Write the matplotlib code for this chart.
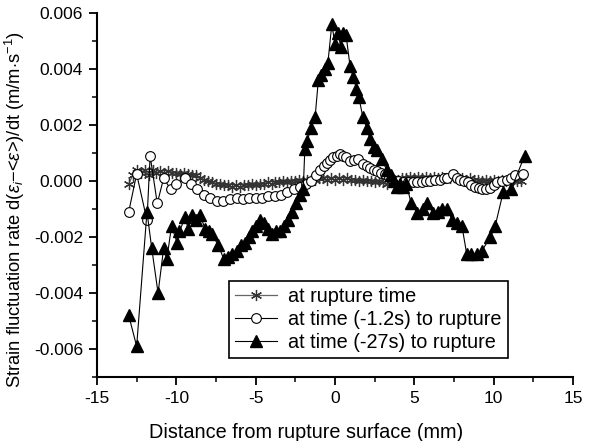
import matplotlib
matplotlib.use("Agg")
import matplotlib.pyplot as plt
from matplotlib.ticker import MultipleLocator

plt.rcParams['font.family'] = ['Liberation Sans', 'DejaVu Sans']
plt.rcParams['mathtext.fontset'] = 'custom'
plt.rcParams['mathtext.rm'] = 'Liberation Sans'
plt.rcParams['mathtext.it'] = 'Liberation Sans:italic'

# ---- data ----
star_x = [-13.0, -12.75, -12.5, -12.25, -12.0, -11.75, -11.5, -11.25, -11.0, -10.75,
          -10.5, -10.25, -10.0, -9.75, -9.5, -9.25, -9.0, -8.75, -8.5, -8.25,
          -8.0, -7.75, -7.5, -7.25, -7.0, -6.75, -6.5, -6.25, -6.0, -5.75,
          -5.5, -5.25, -5.0, -4.75, -4.5, -4.25, -4.0, -3.75, -3.5, -3.25,
          -3.0, -2.75, -2.5, -2.25, -2.0, -1.75, -1.5, -1.25, -1.0, -0.75,
          -0.5, -0.25, 0.0, 0.25, 0.5, 0.75, 1.0, 1.25, 1.5, 1.75,
          2.0, 2.25, 2.5, 2.75, 3.0, 3.25, 3.5, 3.75, 4.0, 4.25,
          4.5, 4.75, 5.0, 5.25, 5.5, 5.75, 6.0, 6.25, 6.5, 6.75,
          7.0, 7.25, 7.5, 7.75, 8.0, 8.25, 8.5, 8.75, 9.0, 9.25,
          9.5, 9.75, 10.0, 10.25, 10.5, 10.75, 11.0, 11.25, 11.5, 11.75]
star_y = [-1, 2, 4, 3, 4, 2, 4, 3, 3.5, 3,
          3.5, 3, 3, 2.5, 3, 2.5, 2, 2, 1, 0.5,
          0, -0.5, -1, -1, -1.5, -1.5, -2, -1.5, -2, -1.5,
          -1.5, -1, -1.5, -1, -1, -0.5, -1, -0.5, -0.5, 0,
          -0.5, 0, 0, 0.5, 0, 0.5, 0.5, 0.5, 1, 1,
          0.5, 1, 0.5, 1, 0.5, 1, 0.5, 0.5, 0, 0.5,
          0, 0, -0.5, 0, -0.5, -1, -0.5, 0, 0.5, 1,
          1, 1.5, 1, 1.5, 1, 1.5, 1, 1.5, 1, 1.5,
          1, 1, 1.5, 1, 1, 0.5, 1, 0.5, 0.5, 0,
          0.5, 0, 0.5, 0, 0.5, 0, 0, 0.5, 0, 0]
star_y = [v * 1e-4 for v in star_y]

circ_x = [-13.0, -12.5, -11.85, -11.65, -11.2, -10.8, -10.35, -10.0, -9.45, -9.1,
          -8.7, -8.25, -7.9, -7.45, -7.05, -6.6, -6.2, -5.8, -5.4, -5.0,
          -4.6, -4.2, -3.8, -3.4, -3.0, -2.6, -2.2, -1.8, -1.5, -1.2,
          -0.95, -0.7, -0.5, -0.3, -0.1, 0.1, 0.3, 0.5, 0.7, 0.95,
          1.2, 1.45, 1.75, 2.0, 2.2, 2.45, 2.65, 2.9, 3.15, 3.4,
          3.65, 4.0, 4.3, 4.6, 4.9, 5.2, 5.5, 5.75, 6.0, 6.3,
          6.6, 6.85, 7.05, 7.45, 7.7, 7.9, 8.15, 8.4, 8.6, 8.8,
          9.05, 9.25, 9.5, 9.75, 10.0, 10.2, 10.5, 10.85, 11.1, 11.35, 11.85]
circ_y = [-11, 2.5, -14, 9, -8, 1, -3, -1, 1, -1,
          -3, -5, -6, -7, -7, -6.5, -6, -6.5, -6, -6,
          -6, -5.5, -5.5, -5, -4, -3, -2, -1, 0, 2,
          4, 5.5, 6.5, 7.5, 8.5, 9, 9.5, 9, 8.5, 7,
          7.5, 8, 6, 5.5, 4.5, 4, 3.5, 3, 2.5, 1.5,
          0.5, 0, -0.5, -0.5, -0.5, -0.5, -0.5, 0, 0, 0.5,
          0.5, 1, 1, 2.5, 1, 0.5, 0, -0.5, -1.5, -2,
          -2.5, -3, -3, -2.5, -1.5, -0.5, 0, 0.5, 1, 2, 2.5]
circ_y = [v * 1e-4 for v in circ_y]

tri_x = [-13.0, -12.5, -11.85, -11.55, -11.15, -10.8, -10.6, -10.3, -9.95, -9.8,
         -9.45, -9.25, -9.0, -8.75, -8.5, -8.2, -7.95, -7.75, -7.35, -7.0,
         -6.75, -6.5, -6.2, -5.95, -5.7, -5.45, -5.2, -4.95, -4.7, -4.45,
         -4.2, -3.95, -3.7, -3.45, -3.2, -2.95, -2.7, -2.45, -2.2, -2.0,
         -1.9, -1.75, -1.5, -1.25, -1.05, -0.9, -0.65, -0.45, -0.2, 0.0,
         0.2, 0.35, 0.5, 0.7, 0.95, 1.15, 1.35, 1.5, 1.75, 2.0,
         2.2, 2.45, 2.65, 2.95, 3.25, 3.5, 3.7, 3.9, 4.1, 4.3,
         4.5, 4.8, 5.2, 5.55, 5.8, 6.2, 6.5, 6.75, 7.05, 7.4,
         7.7, 8.0, 8.3, 8.6, 8.95, 9.25, 9.8, 10.1, 10.6, 11.1, 11.95]
tri_y = [-48, -59, -11, -24, -40, -24, -28, -16, -22, -18,
         -13, -17, -12, -14, -12, -17, -18, -19, -23, -28,
         -27, -26, -25, -23, -22, -20, -18, -16, -14, -15,
         -17, -19, -18, -18, -16, -14, -11, -8, -5, -3,
         11.5, 14.4, 19, 23, 36, 38, 40, 42, 56, 49,
         53, 48, 53, 52, 41, 37, 33, 30, 23, 19,
         15, 12, 11, 8, 4, 2, 0, -2, -1, -2,
         -1, -8, -11.5, -10, -8, -11.5, -11, -10, -10, -14,
         -15, -16, -26, -26, -26, -25, -20, -16, -4, -3, 9]
tri_y = [v * 1e-4 for v in tri_y]

labels = ['at rupture time', 'at time (-1.2s) to rupture', 'at time (-27s) to rupture']

# ---- figure ----
fig = plt.figure(figsize=(5.95, 4.41), dpi=100)
ax = fig.add_axes([0.163, 0.145, 0.80, 0.8255])

ax.plot(star_x, star_y, color='#666666', lw=0.9, marker=(6, 2, 0), ms=8,
        mec='#333333', mew=0.9, label=labels[0], zorder=2)
ax.plot(circ_x, circ_y, color='black', lw=0.8, marker='o', ms=7,
        mfc='white', mec='black', mew=0.8, label=labels[1], zorder=3)
ax.plot(tri_x, tri_y, color='black', lw=0.8, marker='^', ms=8.5,
        mfc='black', mec='black', label=labels[2], zorder=4)

ax.set_xlim(-15, 15)
ax.set_ylim(-0.007, 0.006)
ax.xaxis.set_major_locator(MultipleLocator(5))
ax.xaxis.set_minor_locator(MultipleLocator(2.5))
ax.yaxis.set_major_locator(MultipleLocator(0.002))
ax.yaxis.set_minor_locator(MultipleLocator(0.001))
ax.yaxis.set_major_formatter(matplotlib.ticker.FormatStrFormatter('%.3f'))
ax.xaxis.set_major_formatter(matplotlib.ticker.FuncFormatter(lambda v, p: '%d' % v))

for s in ['top', 'right']:
    ax.spines[s].set_visible(False)
for s in ['left', 'bottom']:
    ax.spines[s].set_linewidth(1.5)
ax.tick_params(which='major', direction='out', length=6, width=1.3, labelsize=12.5, pad=4)
ax.tick_params(which='minor', direction='out', length=3.5, width=1.1)

ax.set_xlabel('Distance from rupture surface (mm)', fontsize=14.3)
ax.set_ylabel(r'Strain fluctuation rate d($\varepsilon_i$$-$<$\varepsilon$>)/dt (m/m$\cdot$s$^{-1}$)',
              fontsize=13.2)
ax.xaxis.set_label_coords(0.44, -0.125)
ax.yaxis.set_label_coords(-0.148, 0.46)

leg = ax.legend(loc='lower left', bbox_to_anchor=(0.277, 0.052), fontsize=14.3,
                frameon=True, fancybox=False, edgecolor='black', framealpha=1,
                handlelength=2.1, handletextpad=0.6, borderpad=0.3,
                labelspacing=0.2, borderaxespad=0)
leg.get_frame().set_linewidth(1.2)

fig.savefig('out.png', dpi=100)
